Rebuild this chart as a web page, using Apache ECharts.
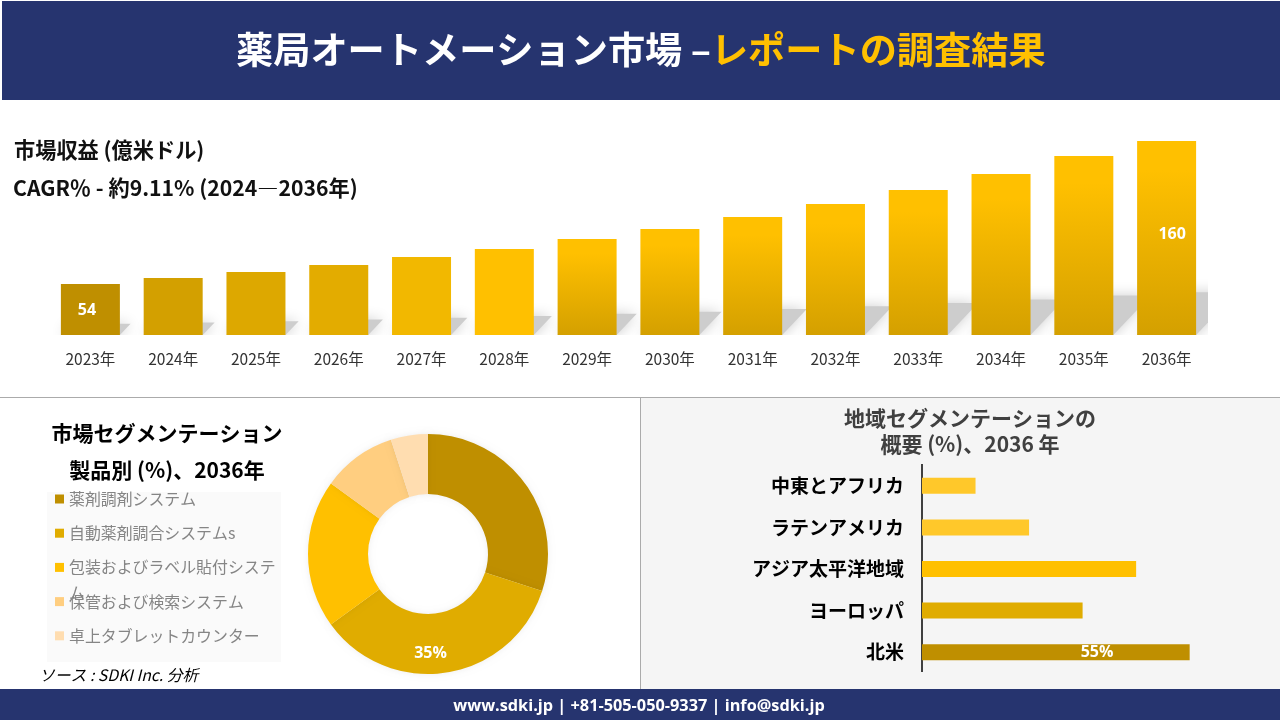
<!DOCTYPE html>
<html lang="ja">
<head>
    <meta charset="UTF-8">
    <title>薬局オートメーション市場</title>
    <script src="https://cdn.jsdelivr.net/npm/echarts@6/dist/echarts.min.js"></script>
    <style>
        html, body { margin: 0; padding: 0; background: #fff; overflow: hidden; }
        #chart { width: 1280px; height: 720px; }
    </style>
</head>
<body>
<div id="chart"></div>
<script>
    var years = ['2023年','2024年','2025年','2026年','2027年','2028年','2029年','2030年','2031年','2032年','2033年','2034年','2035年','2036年'];
    var revenue = [54, 58.5, 62.9, 68.1, 74, 80, 87.4, 94.8, 103.7, 113.3, 123.7, 135.5, 148.9, 160];

    var productNames = ['薬剤調剤システム','自動薬剤調合システムs','包装およびラベル貼付システム','保管および検索システム','卓上タブレットカウンター'];
    var productShare = [30, 35, 20, 10, 5];

    var regionNames = ['中東とアフリカ','ラテンアメリカ','アジア太平洋地域','ヨーロッパ','北米'];
    var regionShare = [11, 22, 44, 33, 55];

    var productColors = ['#BF8F00','#E0AC00','#FFC000','#FFCE80','#FFDDB0'];
    var regionColors = ['#FFC82A','#FFC82A','#FFC000','#E0AC00','#BF8F00'];
    var solidBarColors = ['#BF8F00','#D3A000','#DDA800','#E3AC00','#F2B800','#FFC000'];

    var NAVY = '#26346F';
    var FONT = '"Noto Sans CJK JP", "Noto Sans", sans-serif';
    var BAR_WIDTH = 59;
    var axisMin = 16.2;

    function barFill(i) {
        if (i < solidBarColors.length) return solidBarColors[i];
        return new echarts.graphic.LinearGradient(0, 0, 0, 1, [
            { offset: 0, color: '#FFC000' },
            { offset: 0.15, color: '#FFC000' },
            { offset: 1, color: '#D4A000' }
        ]);
    }

    // slanted shadow lying behind each revenue bar
    function renderShadow(params, api) {
        var i = api.value(0);
        var top = api.coord([i, api.value(1)]);
        var base = api.coord([i, axisMin]);
        var rise = (base[1] - top[1]) * 0.22;
        var run = rise * 0.95;
        var x0 = base[0] - BAR_WIDTH / 2;
        var x1 = base[0] + BAR_WIDTH / 2;
        return {
            type: 'polygon',
            shape: { points: [[x0, base[1]], [x1, base[1]], [x1 + run, base[1] - rise], [x0 + run, base[1] - rise]] },
            style: { fill: '#CDCDCD', shadowBlur: 14, shadowColor: '#CDCDCD' }
        };
    }

    function legendItems() {
        var items = [{
            type: 'rect', left: 47, top: 492,
            shape: { width: 234, height: 170 },
            style: { fill: '#FAFAFA' }
        }];
        productNames.forEach(function (name, i) {
            var y = 499 + i * 34.2;
            items.push({
                type: 'rect', left: 55, top: y - 4.5,
                shape: { width: 9, height: 9 },
                style: { fill: productColors[i] }
            });
            items.push({
                type: 'text', left: 69, top: y - 13,
                style: {
                    text: name, width: 208, overflow: 'break', lineHeight: 26,
                    fill: '#858585', font: '15.9px ' + FONT
                }
            });
        });
        return items;
    }

    var chart = echarts.init(document.getElementById('chart'));

    chart.setOption({
        animation: false,
        backgroundColor: '#fff',
        graphic: {
            elements: [
                { type: 'rect', left: 2, top: 1, z: -10, shape: { width: 1278, height: 99 }, style: { fill: NAVY } },
                { type: 'rect', left: 640, top: 397, z: -10, shape: { width: 640, height: 292 }, style: { fill: '#F5F5F5' } },
                { type: 'rect', left: 0, top: 397, z: -9, shape: { width: 1280, height: 1 }, style: { fill: '#ABABAB' } },
                { type: 'rect', left: 640, top: 397, z: -9, shape: { width: 1, height: 292 }, style: { fill: '#ABABAB' } },
                { type: 'rect', left: 0, top: 689, z: -9, shape: { width: 1280, height: 31 }, style: { fill: NAVY } }
            ].concat(legendItems()).concat([
                { type: 'text', left: 39, top: 667, style: { text: 'ソース : SDKI Inc. 分析', fill: '#000', font: 'italic 15.8px ' + FONT } },
                { type: 'rect', left: 921, top: 464, shape: { width: 2, height: 208 }, style: { fill: '#404040' } }
            ])
        },
        title: [
            {
                text: '{w|薬局オートメーション市場 –}{y|レポートの調査結果}',
                left: 231, top: 26,
                textStyle: {
                    rich: {
                        w: { fontFamily: FONT, fontSize: 37.2, fontWeight: 'bold', color: '#fff' },
                        y: { fontFamily: FONT, fontSize: 37.2, fontWeight: 'bold', color: '#FFC000' }
                    }
                }
            },
            {
                text: '市場収益 (億米ドル)',
                left: 9, top: 134,
                textStyle: { fontFamily: FONT, fontSize: 21.2, fontWeight: 'bold', color: '#111' }
            },
            {
                text: 'CAGR％ - 約9.11% (2024―2036年)',
                left: 8, top: 172,
                textStyle: { fontFamily: FONT, fontSize: 21.2, fontWeight: 'bold', color: '#111' }
            },
            {
                text: '市場セグメンテーション\n製品別 (%)、2036年',
                left: 162, top: 410, textAlign: 'center',
                textStyle: { fontFamily: FONT, fontSize: 21, fontWeight: 'bold', color: '#000', lineHeight: 37 }
            },
            {
                text: '地域セグメンテーションの\n概要 (%)、2036 年',
                left: 965, top: 400, textAlign: 'center',
                textStyle: { fontFamily: FONT, fontSize: 21, fontWeight: 'bold', color: '#404040', lineHeight: 26 }
            },
            {
                text: 'www.sdki.jp | +81-505-050-9337 | info@sdki.jp',
                left: 634, top: 693, textAlign: 'center',
                textStyle: { fontFamily: '"Open Sans", "Noto Sans", sans-serif', fontSize: 16.3, fontWeight: 'bold', color: '#fff' }
            }
        ],
        grid: [
            { left: 49, top: 141, width: 1159, height: 194 },
            { left: 922, top: 465, width: 292, height: 208 }
        ],
        xAxis: [
            {
                type: 'category', gridIndex: 0, data: years,
                axisLine: { show: false }, axisTick: { show: false },
                axisLabel: { color: '#333', fontFamily: FONT, fontSize: 15.5, margin: 16, interval: 0 }
            },
            { type: 'value', gridIndex: 1, min: 0, max: 60, show: false }
        ],
        yAxis: [
            { type: 'value', gridIndex: 0, min: axisMin, max: 160, show: false },
            {
                type: 'category', gridIndex: 1, data: regionNames, inverse: true,
                axisLine: { show: false }, axisTick: { show: false },
                axisLabel: { color: '#000', fontFamily: FONT, fontSize: 19, fontWeight: 'bold', margin: 18, interval: 0, padding: [0, 0, 8, 0] }
            }
        ],
        series: [
            {
                type: 'custom', xAxisIndex: 0, yAxisIndex: 0, z: 1, clip: true,
                renderItem: renderShadow,
                encode: { x: 0, y: 1 },
                data: revenue.map(function (v, i) { return [i, v]; })
            },
            {
                type: 'bar', xAxisIndex: 0, yAxisIndex: 0, z: 2,
                barWidth: BAR_WIDTH,
                data: revenue.map(function (v, i) {
                    var item = { value: v, itemStyle: { color: barFill(i) } };
                    if (i === 0) item.label = { show: true, position: [26, 26] };
                    if (i === revenue.length - 1) item.label = { show: true, position: [35, 93] };
                    return item;
                }),
                label: {
                    show: false, color: '#fff', align: 'center', verticalAlign: 'middle',
                    fontFamily: '"Open Sans", sans-serif', fontSize: 16, fontWeight: 'bold'
                }
            },
            {
                type: 'bar', xAxisIndex: 1, yAxisIndex: 1,
                barWidth: 16,
                data: regionShare.map(function (v, i) {
                    var item = { value: v, itemStyle: { color: regionColors[i] } };
                    if (i === regionShare.length - 1) item.label = { show: true, position: [175, 8], formatter: '{c}%' };
                    return item;
                }),
                label: {
                    show: false, color: '#fff', align: 'center', verticalAlign: 'middle',
                    fontFamily: '"Open Sans", sans-serif', fontSize: 16, fontWeight: 'bold'
                }
            },
            {
                type: 'pie',
                center: [428, 554], radius: [60, 120],
                startAngle: 90, clockwise: true,
                itemStyle: { shadowBlur: 6, shadowColor: 'rgba(0,0,0,0.07)' },
                label: { show: false },
                labelLine: { show: false },
                labelLayout: { dx: -12, dy: 8 },
                emphasis: { disabled: true },
                data: productNames.map(function (name, i) {
                    var item = { name: name, value: productShare[i], itemStyle: { color: productColors[i] } };
                    if (i === 1) {
                        item.label = {
                            show: true, position: 'inside', formatter: '{c}%', color: '#fff',
                            fontFamily: '"Open Sans", sans-serif', fontSize: 16, fontWeight: 'bold'
                        };
                    }
                    return item;
                })
            }
        ]
    });
</script>
</body>
</html>
